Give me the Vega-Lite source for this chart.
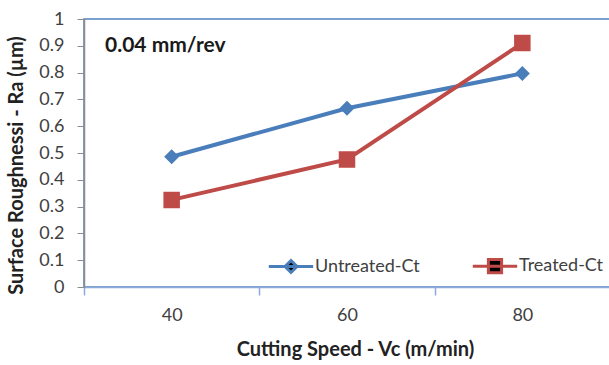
{
  "$schema": "https://vega.github.io/schema/vega-lite/v6.json",
  "width": 526,
  "height": 268,
  "autosize": {"type": "none"},
  "padding": {"left": 84, "top": 19, "right": 0, "bottom": 78},
  "background": "white",
  "config": {
    "font": "Lato",
    "view": {"stroke": "#4f81bd", "strokeWidth": 1.5},
    "axis": {"grid": false, "labelFont": "Lato", "titleFont": "Lato", "labelFontSize": 18, "labelColor": "#404040", "titleFontSize": 20, "titleFontWeight": "bold", "titleColor": "#222222"},
    "legend": {
      "orient": "none", "direction": "horizontal",
      "legendX": 198, "legendY": 238,
      "symbolSize": 144, "symbolStrokeWidth": 3,
      "labelOffset": 15, "columnPadding": 46,
      "labelFont": "Lato", "labelFontSize": 18, "labelColor": "#404040"
    }
  },
  "title": {"text": "0.04 mm/rev", "anchor": "start", "frame": "group", "dx": 21, "offset": -46, "fontSize": 21, "fontWeight": "bold", "color": "#1a1a1a", "font": "Lato"},
  "data": {
    "values": [
      {"speed": "40", "series": "Untreated-Ct", "ra": 0.486},
      {"speed": "60", "series": "Untreated-Ct", "ra": 0.667},
      {"speed": "80", "series": "Untreated-Ct", "ra": 0.797},
      {"speed": "40", "series": "Treated-Ct", "ra": 0.325},
      {"speed": "60", "series": "Treated-Ct", "ra": 0.476},
      {"speed": "80", "series": "Treated-Ct", "ra": 0.91}
    ]
  },
  "encoding": {
    "x": {
      "field": "speed", "type": "ordinal", "sort": ["40", "60", "80"],
      "scale": {"paddingInner": 0, "paddingOuter": 0},
      "axis": {"title": "Cutting Speed - Vc (m/min)", "titleX": 271, "labelAngle": 0, "tickBand": "extent", "domainColor": "#8eaadb", "domainWidth": 1.5, "tickColor": "#8eaadb", "tickWidth": 1.5, "tickSize": 8, "labelPadding": 11, "titlePadding": 15}
    },
    "y": {
      "field": "ra", "type": "quantitative",
      "scale": {"domain": [0, 1]},
      "axis": {"title": "Surface Roughnessi - Ra (µm)", "titleY": 146, "format": ".1~f", "values": [0, 0.1, 0.2, 0.3, 0.4, 0.5, 0.6, 0.7, 0.8, 0.9, 1], "domainColor": "#8c8c8c", "domainWidth": 1.5, "tickColor": "#8c8c8c", "tickSize": 7, "labelPadding": 13, "titlePadding": 12}
    }
  },
  "layer": [
    {
      "mark": {"type": "line", "strokeWidth": 4},
      "encoding": {
        "color": {
          "field": "series", "type": "nominal", "legend": null,
          "scale": {"domain": ["Untreated-Ct", "Treated-Ct"], "range": ["#4a7ebb", "#be4b48"]}
        }
      }
    },
    {
      "mark": {"type": "point", "filled": true, "opacity": 1, "strokeWidth": 0, "size": 225},
      "encoding": {
        "color": {
          "field": "series", "type": "nominal", "title": null,
          "scale": {"domain": ["Untreated-Ct", "Treated-Ct"], "range": ["#4a7ebb", "#be4b48"]},
          "legend": {"symbolOpacity": 0, "labelOpacity": 0, "legendY": 400}
        },
        "stroke": {
          "field": "series", "type": "nominal", "title": null,
          "scale": {"domain": ["Untreated-Ct", "Treated-Ct"], "range": ["#4a7ebb", "#be4b48"]}
        },
        "shape": {
          "field": "series", "type": "nominal", "title": null,
          "scale": {"domain": ["Untreated-Ct", "Treated-Ct"], "range": ["M-3.7,0H3.7M0,-1L1,0L0,1L-1,0Z", "M-3.7,0H3.7M-1.1,-1.1H1.1V1.1H-1.1Z"]},
          "legend": {"encode": {"symbols": {
            "strokeWidth": {"value": 3},
            "size": {"value": 144},
            "fill": {"condition": {"test": "datum.value === 'Treated-Ct'", "value": "#be4b48"}, "value": "#4a7ebb"},
            "fillOpacity": {"value": 1}
          }}}
        }
      }
    }
  ],
  "resolve": {"scale": {"color": "independent"}}
}
